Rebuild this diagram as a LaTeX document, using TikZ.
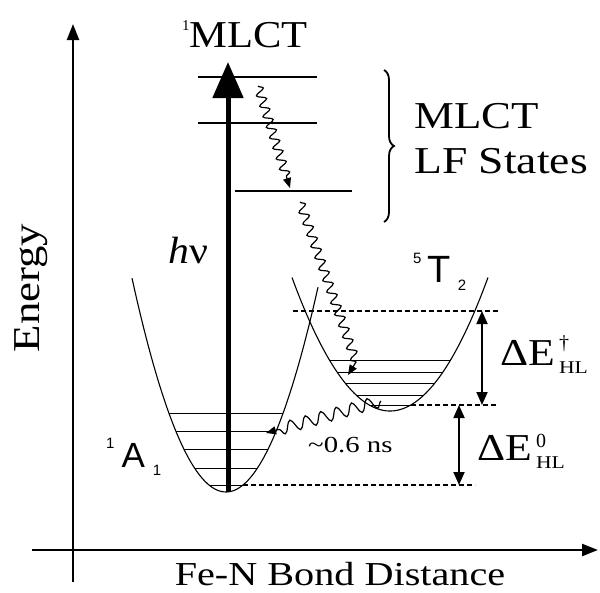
\documentclass[tikz,border=0pt]{standalone}
\usepackage{fontspec}
\usepackage{graphicx}
\setmainfont{Liberation Serif}
\newfontfamily\arialf{Liberation Sans}
\usetikzlibrary{arrows.meta,decorations.pathmorphing,decorations.pathreplacing}
\newcommand\myfs[1]{\fontsize{#1}{#1}\selectfont}
\newcommand\sx[2]{\scalebox{#1}[1]{#2}}
\begin{document}
\begin{tikzpicture}[x=1pt,y=-1pt,
  axis/.style={line width=2.4pt,-{Triangle[length=16pt,width=12pt]}},
  curve/.style={line width=1.1pt},
  level/.style={line width=1pt},
  toplevel/.style={line width=1.1pt},
  dashline/.style={line width=1.8pt,dash pattern=on 5pt off 3pt},
  dbl/.style={line width=1.8pt,{Triangle[length=13pt,width=11pt]}-{Triangle[length=13pt,width=11pt]}},
  hv/.style={line width=5pt,-{Triangle[length=36pt,width=30pt]}},
  wavy/.style={line width=1.2pt,-{Triangle[length=10pt,width=8pt]},decorate,
    decoration={snake,amplitude=4.5pt,segment length=11pt,post length=7pt}},
  wavybig/.style={line width=1.2pt,-{Triangle[length=10pt,width=8pt]},decorate,
    decoration={snake,amplitude=6pt,segment length=16pt,post length=6pt}},
  lbl/.style={inner sep=0pt,anchor=base west},
]
\useasboundingbox (0,0) rectangle (600,592);

% axes
\coordinate (yb) at (73,582);
\coordinate (yt) at (73,24);
\coordinate (xl) at (32,550);
\coordinate (xr) at (598,550);
\draw[axis] (yb) -- (yt);
\draw[axis] (xl) -- (xr);

% parabolas
\draw[curve] plot[domain=132:318,samples=80] (\x,{492-0.0242*(\x-226)^2});
\draw[curve] plot[domain=292:488,samples=80] (\x,{411-0.0139*(\x-390)^2});

% vibrational levels
\foreach \L in {413,431,449,468,485}
  \draw[level] ({226-sqrt((492-\L)/0.0242)},\L) -- ({226+sqrt((492-\L)/0.0242)},\L);
\foreach \L in {360,372,383,395,405}
  \draw[level] ({390-sqrt((411-\L)/0.0139)},\L) -- ({390+sqrt((411-\L)/0.0139)},\L);

% upper levels
\draw[toplevel] (198,77) -- (317,77);
\draw[toplevel] (198,123) -- (317,123);
\draw[toplevel] (235,191) -- (352,191);

% dashed lines
\coordinate (d1a) at (293,311); \coordinate (d1b) at (498,311);
\coordinate (d2a) at (411,405); \coordinate (d2b) at (497,405);
\coordinate (d3a) at (243,485); \coordinate (d3b) at (475,485);
\draw[dashline] (d1a) -- (d1b);
\draw[dashline] (d2a) -- (d2b);
\draw[dashline] (d3a) -- (d3b);

% energy gap arrows
\coordinate (e1t) at (482,311); \coordinate (e1b) at (482,405);
\coordinate (e2t) at (459,405); \coordinate (e2b) at (459,485);
\draw[dbl] (e1t) -- (e1b);
\draw[dbl] (e2t) -- (e2b);

% excitation arrow
\coordinate (hb) at (228,492); \coordinate (ht) at (228,62);
\draw[hv] (hb) -- (ht);

% wavy relaxation arrows
\coordinate (w1a) at (258,86); \coordinate (w1b) at (290,188);
\draw[wavy] (w1a) -- (w1b);
\coordinate (w2a) at (300,202); \coordinate (w2m) at (356,362); \coordinate (w2b) at (348,375);
\draw[line width=1.2pt,-{Triangle[length=10pt,width=8pt]}]
  (w2a) decorate[decoration={snake,amplitude=4.5pt,segment length=12pt}] {-- (w2m)} -- (w2b);
\coordinate (w3a) at (381,401); \coordinate (w3b) at (266,433);
\draw[wavybig] (w3a) -- (w3b);

% brace
\coordinate (br1) at (384,70); \coordinate (br2) at (384,222);
\draw[line width=1.8pt,decorate,decoration={brace,amplitude=10pt}] (br1) -- (br2);

% labels
\node[lbl] (mlct) at (182,47) {\myfs{15}\raisebox{17pt}{1}\sx{1.12}{\myfs{38}MLCT}};
\node[lbl] (st1) at (414,128) {\sx{1.18}{\myfs{38}MLCT}};
\node[lbl] (st2) at (414,173) {\sx{1.2}{\myfs{38}LF States}};
\node[lbl] (hnu) at (168,263) {\sx{1.1}{\myfs{38}\itshape h\upshape ν}};
\node[lbl] (t2) at (413,282) {\arialf\myfs{15}\raisebox{19pt}{5}\hspace{6pt}\myfs{38}T\hspace{7pt}\myfs{15}\raisebox{-8pt}{2}};
\node[lbl] (a1) at (106,467) {\arialf\myfs{15}\raisebox{19pt}{1}\hspace{7pt}\myfs{35}A\hspace{8pt}\myfs{15}\raisebox{-8pt}{1}};
\node[lbl] (ns) at (308,452) {\sx{1.25}{\myfs{23}\textasciitilde 0.6 ns}};
\node[lbl] (de1) at (500,365) {\sx{1.15}{\myfs{38}ΔE}\rlap{\hspace{4pt}\raisebox{16pt}{\myfs{20}†}}\hspace{4pt}\raisebox{-8pt}{\sx{1.2}{\myfs{18}HL}}};
\node[lbl] (de0) at (477,460) {\sx{1.15}{\myfs{38}ΔE}\rlap{\hspace{4pt}\raisebox{13pt}{\myfs{20}0}}\hspace{4pt}\raisebox{-8pt}{\sx{1.2}{\myfs{18}HL}}};
\node[inner sep=0pt,anchor=base] (xlab) at (340,585) {\sx{1.2}{\myfs{33.5}Fe-N Bond Distance}};
\node[inner sep=0pt,anchor=base,rotate=90] (ylab) at (39,288) {\sx{1.18}{\myfs{38}Energy}};
\end{tikzpicture}
\end{document}
